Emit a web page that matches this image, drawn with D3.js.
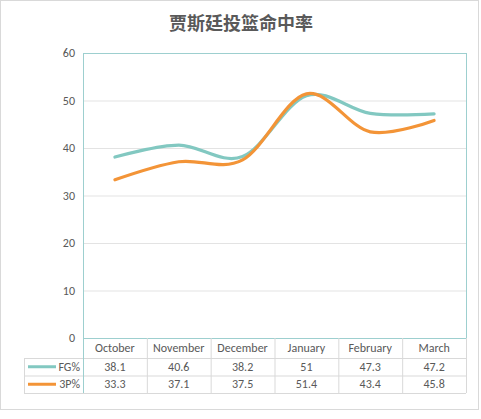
<!DOCTYPE html>
<html>
<head>
<meta charset="utf-8">
<script src="https://cdn.jsdelivr.net/npm/d3@7"></script>
<style>
  body { margin: 0; background: #fff; }
  text { font-family: Calibri, "Open Sans", "Noto Sans", sans-serif; }
</style>
</head>
<body>
<div id="vis"></div>
<script>
const months = ["October", "November", "December", "January", "February", "March"];
const fgPct = [38.1, 40.6, 38.2, 51, 47.3, 47.2];
const threePct = [33.3, 37.1, 37.5, 51.4, 43.4, 45.8];
const yTicks = [0, 10, 20, 30, 40, 50, 60];
const seriesNames = ["FG%", "3P%"];

function drawChart(){
  const size = {width: 481, height: 419};
  const margin = {left: 83, right: 15, top: 53, bottom: 81};
  const series = [
    {name: seriesNames[0], values: fgPct, color: "#82c8c1"},
    {name: seriesNames[1], values: threePct, color: "#f39437"}
  ];

  const svg = d3.select("#vis")
    .append("svg")
    .attr("width", size.width)
    .attr("height", size.height);

  // outer frame
  svg.append("rect")
    .attr("x", 0.5).attr("y", 0.5)
    .attr("width", 478).attr("height", 409)
    .attr("fill", "#fff")
    .attr("stroke", "#d9d9d9");

  svg.append("text")
    .attr("x", 241).attr("y", 30)
    .attr("text-anchor", "middle")
    .style("font-family", "'Noto Sans CJK SC', sans-serif")
    .style("font-size", "18px")
    .style("font-weight", "bold")
    .style("fill", "#595959")
    .text("贾斯廷投篮命中率");

  const x = d3.scaleBand()
    .domain(months)
    .range([margin.left, size.width - margin.right]);

  const y = d3.scaleLinear()
    .domain([0, 60])
    .range([size.height - margin.bottom, margin.top]);

  // gridlines
  svg.append("g")
    .selectAll("line")
    .data(yTicks.filter(d => d > 0 && d < 60))
    .join("line")
    .attr("x1", x.range()[0]).attr("x2", x.range()[1])
    .attr("y1", d => y(d) + 0.5).attr("y2", d => y(d) + 0.5)
    .attr("stroke", "#e3e3e3");

  // y axis labels
  const yAxis = svg.append("g")
    .attr("transform", `translate(${margin.left}, 0)`)
    .call(d3.axisLeft(y).tickValues(yTicks).tickSize(0).tickPadding(8));
  yAxis.select(".domain").remove();
  yAxis.selectAll("text")
    .style("font-family", "Calibri, 'Open Sans', sans-serif")
    .style("font-size", "12px")
    .style("fill", "#595959");

  // plot border
  svg.append("rect")
    .attr("x", x.range()[0] + 0.5).attr("y", y(60) + 0.5)
    .attr("width", x.range()[1] - x.range()[0])
    .attr("height", y(0) - y(60))
    .attr("fill", "none")
    .attr("stroke", "#9dcfcf");

  const line = d3.line()
    .x((d, i) => x(months[i]) + x.bandwidth() / 2)
    .y(d => y(d))
    .curve(d3.curveCardinal.tension(0));

  svg.append("g")
    .selectAll("path")
    .data(series)
    .join("path")
    .attr("d", d => line(d.values))
    .attr("fill", "none")
    .attr("stroke", d => d.color)
    .attr("stroke-width", 3.2)
    .attr("stroke-linecap", "round");

  // data table
  const tableLeft = 24;
  const headerBottom = y(0) + 20;
  const rowH = 17.5;
  const table = svg.append("g");
  const gridColor = "#d9d9d9";
  const rowTops = [headerBottom, headerBottom + rowH];
  const tableBottom = headerBottom + 2 * rowH;

  // horizontal lines
  [headerBottom, headerBottom + rowH, tableBottom].forEach(v => {
    table.append("line")
      .attr("x1", tableLeft).attr("x2", x.range()[1])
      .attr("y1", v + 0.5).attr("y2", v + 0.5)
      .attr("stroke", gridColor);
  });
  table.append("line")
    .attr("x1", tableLeft + 0.5).attr("x2", tableLeft + 0.5)
    .attr("y1", headerBottom).attr("y2", tableBottom)
    .attr("stroke", gridColor);
  months.forEach((m, i) => {
    const xv = x(m) + 0.5;
    table.append("line")
      .attr("x1", xv).attr("x2", xv)
      .attr("y1", i === 0 ? y(0) : y(0)).attr("y2", tableBottom)
      .attr("stroke", i === 0 ? "#9dcfcf" : gridColor);
  });
  table.append("line")
    .attr("x1", x.range()[1] + 0.5).attr("x2", x.range()[1] + 0.5)
    .attr("y1", y(0)).attr("y2", tableBottom)
    .attr("stroke", gridColor);

  table.selectAll(".cat")
    .data(months)
    .join("text")
    .attr("class", "cat")
    .attr("x", d => x(d) + x.bandwidth() / 2)
    .attr("y", y(0) + 14)
    .attr("text-anchor", "middle")
    .text(d => d);

  series.forEach((s, r) => {
    const mid = rowTops[r] + rowH / 2;
    table.append("line")
      .attr("x1", tableLeft + 4).attr("x2", tableLeft + 32)
      .attr("y1", mid).attr("y2", mid)
      .attr("stroke", s.color)
      .attr("stroke-width", 3);
    table.append("text")
      .attr("x", margin.left - 3)
      .attr("y", mid + 4)
      .attr("text-anchor", "end")
      .text(s.name);
    table.selectAll(".v" + r)
      .data(s.values)
      .join("text")
      .attr("class", "v" + r)
      .attr("x", (d, i) => x(months[i]) + x.bandwidth() / 2)
      .attr("y", mid + 4)
      .attr("text-anchor", "middle")
      .text(d => d);
  });

  table.selectAll("text")
    .style("font-size", "12px")
    .style("fill", "#595959");
}

drawChart();
</script>
</body>
</html>
